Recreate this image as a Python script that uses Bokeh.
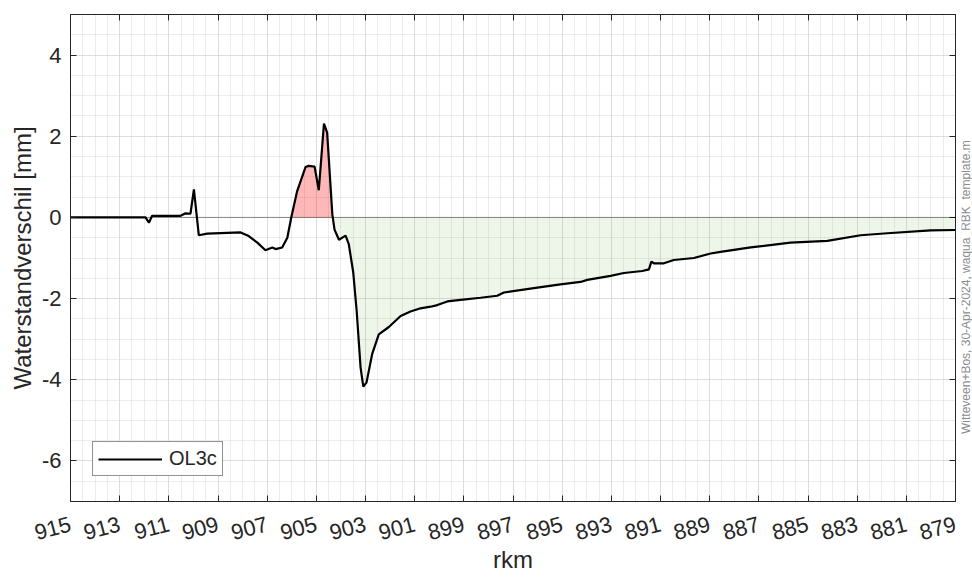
import math
import numpy as np
from bokeh.plotting import figure
from bokeh.layouts import row
from bokeh.models import (FixedTicker, LinearAxis, Range1d, Legend, LegendItem,
                          Span, Grid, Label)
from bokeh.embed import file_html
from bokeh.resources import INLINE

# ---- data ----
rkm = [915.0, 911.95, 911.81, 911.68, 910.52, 910.32, 910.12, 909.98, 909.78,
       909.44, 908.08, 907.75, 907.40, 907.07, 906.79, 906.66, 906.39, 906.18,
       906.02, 905.78, 905.44, 905.31, 905.07, 904.90, 904.69, 904.56, 904.35,
       904.26, 904.08, 903.81, 903.68, 903.50, 903.36, 903.20, 903.09, 902.96,
       902.73, 902.46, 902.05, 901.57, 901.17, 900.76, 900.35, 900.08, 899.67,
       899.13, 898.32, 897.64, 897.37, 896.01, 895.07, 894.25, 893.98, 893.03,
       892.49, 891.74, 891.47, 891.37, 891.27, 890.86, 890.46, 889.64, 888.96,
       888.56, 887.33, 885.71, 884.21, 882.86, 881.77, 880.01, 879.0]
verschil = [0.0, 0.0, -0.13, 0.04, 0.04, 0.10, 0.09, 0.69, -0.44,
            -0.40, -0.37, -0.46, -0.62, -0.81, -0.74, -0.78, -0.74, -0.50,
            0.0, 0.65, 1.24, 1.27, 1.25, 0.67, 2.31, 2.09, 0.08,
            -0.30, -0.55, -0.45, -0.66, -1.35, -2.30, -3.70, -4.17, -4.07,
            -3.37, -2.88, -2.70, -2.43, -2.32, -2.24, -2.20, -2.16, -2.07,
            -2.03, -1.98, -1.93, -1.85, -1.73, -1.65, -1.59, -1.54, -1.44,
            -1.37, -1.32, -1.28, -1.09, -1.13, -1.13, -1.05, -1.00, -0.89,
            -0.85, -0.74, -0.62, -0.58, -0.44, -0.39, -0.32, -0.31]
fill_start = 906.02
series_name = "OL3c"
x_ticks = [915, 913, 911, 909, 907, 905, 903, 901, 899, 897, 895, 893, 891,
           889, 887, 885, 883, 881, 879]
y_ticks = [-6, -4, -2, 0, 2, 4]
y_tick_labels = ["-6", "-4", "-2", "0", "2", "4"]
x_label = "rkm"
y_label = "Waterstandverschil [mm]"
stamp = "Witteveen+Bos, 30-Apr-2024, waqua_RBK_template.m"

x_minor = list(np.arange(879, 915.01, 0.5))
y_minor = list(np.arange(-7, 5.01, 0.5))

AX = "#262626"
FONT = "Liberation Sans"

p = figure(width=961, height=577, x_range=Range1d(915, 879), y_range=Range1d(-7, 5),
           output_backend="svg", toolbar_location=None,
           min_border_left=70, min_border_right=6, min_border_top=14,
           min_border_bottom=76, x_axis_location=None, y_axis_location=None)
p.background_fill_color = "white"
p.border_fill_color = "white"
p.outline_line_color = AX
p.outline_line_width = 1

xt = FixedTicker(ticks=x_ticks, minor_ticks=x_minor)
yt = FixedTicker(ticks=y_ticks, minor_ticks=y_minor)

def style(ax, labels=True):
    ax.axis_line_color = AX
    ax.axis_line_width = 1
    ax.major_tick_line_color = AX
    ax.major_tick_in = 6
    ax.major_tick_out = 0
    ax.minor_tick_in = 0
    ax.minor_tick_out = 0
    ax.major_label_text_font = FONT
    ax.major_label_text_color = AX
    ax.axis_label_text_font = FONT
    ax.axis_label_text_font_style = "normal"
    ax.axis_label_text_color = AX
    if not labels:
        ax.major_label_text_font_size = "0px"
        ax.major_label_standoff = 0
        ax.major_label_overrides = {t: "" for t in ax.ticker.ticks}

xb = LinearAxis(ticker=xt, axis_label=x_label)
style(xb)
xb.major_label_text_font_size = "22px"
xb.major_label_orientation = 0.26
xb.major_label_standoff = 22
xb.axis_label_text_font_size = "24px"
xb.axis_label_standoff = -4
p.add_layout(xb, "below")

yl = LinearAxis(ticker=yt, axis_label=y_label)
style(yl)
yl.major_label_overrides = dict(zip(y_ticks, y_tick_labels))
yl.major_label_text_font_size = "22px"
yl.major_label_standoff = 9
yl.axis_label_text_font_size = "24px"
yl.axis_label_standoff = 3
p.add_layout(yl, "left")

xa = LinearAxis(ticker=xt)
style(xa, labels=False)
p.add_layout(xa, "above")

yr = LinearAxis(ticker=yt)
style(yr, labels=False)
p.add_layout(yr, "right")

p.xgrid.visible = False
p.ygrid.visible = False
for dim, tk in ((0, xt), (1, yt)):
    g = Grid(dimension=dim, ticker=tk)
    g.grid_line_color = "#cfcfcf"
    g.grid_line_dash = "1 1"
    g.grid_line_width = 1
    g.minor_grid_line_color = "#d9d9d9"
    g.minor_grid_line_dash = "1 1"
    g.minor_grid_line_width = 1
    p.add_layout(g)

# ---- fills between curve and zero ----
pts = [(x, y) for x, y in zip(rkm, verschil) if x <= fill_start]
fx, fy = [], []
for i, (x1, y1) in enumerate(pts):
    if i > 0:
        x0, y0 = pts[i - 1]
        if y0 * y1 < 0:
            t = y0 / (y0 - y1)
            fx.append(x0 + t * (x1 - x0))
            fy.append(0.0)
    fx.append(x1)
    fy.append(y1)
fy = np.array(fy)
p.varea(x=fx, y1=0, y2=np.maximum(fy, 0), fill_color="#ff0000", fill_alpha=0.28)
p.varea(x=fx, y1=0, y2=np.minimum(fy, 0), fill_color="#5aa02c", fill_alpha=0.10)

p.add_layout(Span(location=0, dimension="width", line_color="#000000",
                  line_dash="1 1", line_width=1, line_alpha=0.8))

r = p.line(rkm, verschil, line_color="black", line_width=2.2)

leg = Legend(items=[LegendItem(label=series_name, renderers=[r])], location=(22, 25))
leg.border_line_color = AX
leg.border_line_width = 1
leg.background_fill_color = "white"
leg.background_fill_alpha = 1
leg.label_text_font = FONT
leg.label_text_font_size = "20px"
leg.label_text_color = AX
leg.glyph_width = 64
leg.glyph_height = 20
leg.label_standoff = 7
leg.padding = 5
leg.margin = 0
p.add_layout(leg)

# ---- narrow side strip holding the vertical file stamp ----
s = figure(width=11, height=577, x_range=Range1d(0, 11), y_range=Range1d(0, 577),
           output_backend="svg", toolbar_location=None,
           min_border=0, x_axis_location=None, y_axis_location=None)
s.outline_line_color = None
s.background_fill_color = "white"
s.border_fill_color = "white"
s.grid.visible = False
s.add_layout(Label(x=4.3, y=80, text=stamp, angle=math.pi / 2,
                   text_align="left", text_baseline="middle",
                   text_font=FONT, text_font_size="12px", text_color="#8c8c8c"))

layout = row(p, s, spacing=0)
open("out.html", "w").write(file_html(layout, INLINE))
